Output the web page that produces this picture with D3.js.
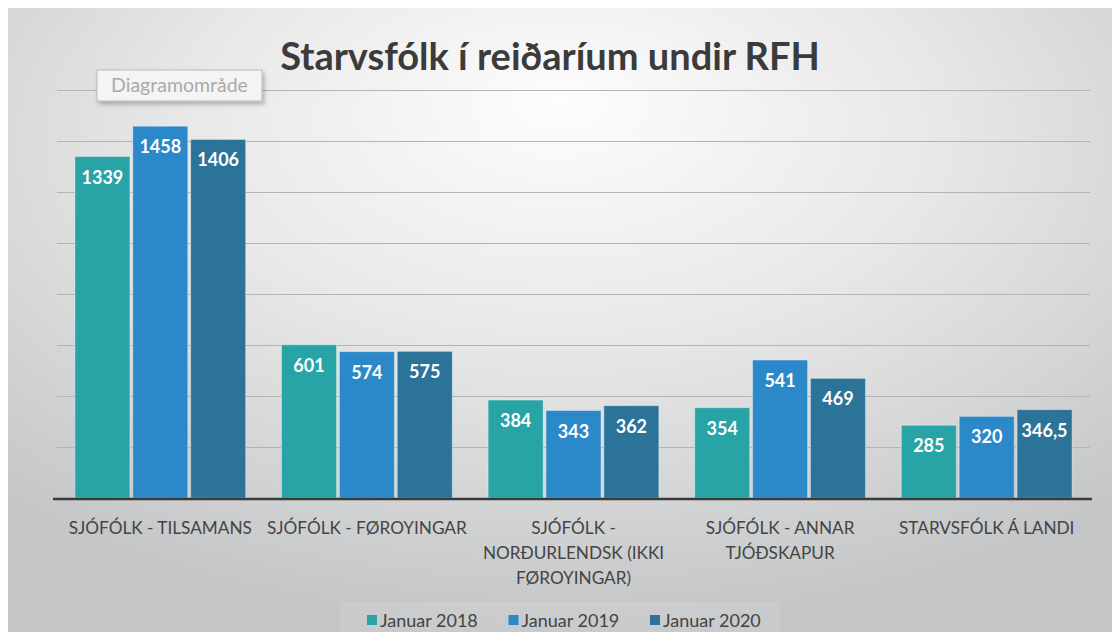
<!DOCTYPE html>
<html>
<head>
<meta charset="utf-8">
<script src="https://cdn.jsdelivr.net/npm/d3@7"></script>
<style>
  html, body { margin: 0; padding: 0; background: #fff; }
  svg { display: block; font-family: Lato, "Open Sans", sans-serif; }
</style>
</head>
<body>
<div id="chart"></div>
<script>
const categories = [
    "SJÓFÓLK - TILSAMANS",
    "SJÓFÓLK - FØROYINGAR",
    "SJÓFÓLK - NORÐURLENDSK (IKKI FØROYINGAR)",
    "SJÓFÓLK - ANNAR TJÓÐSKAPUR",
    "STARVSFÓLK Á LANDI"
]
const seriesNames = ["Januar 2018", "Januar 2019", "Januar 2020"]
const jan2018 = [1339, 601, 384, 354, 285]
const jan2019 = [1458, 574, 343, 541, 320]
const jan2020 = [1406, 575, 362, 469, 346.5]
const seriesColors = ["#28a3a6", "#2b89c9", "#2c7399"]

const width = 1116, height = 632
const margin = { top: 90, right: 26, bottom: 134, left: 57 }

const svg = d3.select("#chart").append("svg")
    .attr("width", width)
    .attr("height", height)

// background: grey chart area with a light centre
const defs = svg.append("defs")
const grad = defs.append("radialGradient")
    .attr("id", "bg")
    .attr("cx", "50%").attr("cy", "25%").attr("r", "75%")
    .attr("fx", "50%").attr("fy", "15%")
grad.append("stop").attr("offset", "0%").attr("stop-color", "#fdfdfd")
grad.append("stop").attr("offset", "45%").attr("stop-color", "#e8e8e8")
grad.append("stop").attr("offset", "100%").attr("stop-color", "#c3c5c6")

const shadow = defs.append("filter").attr("id", "shadow")
    .attr("x", "-10%").attr("y", "-20%").attr("width", "130%").attr("height", "170%")
shadow.append("feDropShadow")
    .attr("dx", 2).attr("dy", 3).attr("stdDeviation", 2)
    .attr("flood-color", "#000").attr("flood-opacity", 0.25)

svg.append("rect")
    .attr("x", 8).attr("y", 8)
    .attr("width", width - 12).attr("height", height - 8)
    .attr("fill", "url(#bg)")

const data = categories.map((c, i) => ({
    category: c,
    values: [jan2018[i], jan2019[i], jan2020[i]]
}))

const x0 = d3.scaleBand()
    .domain(categories)
    .range([margin.left, width - margin.right])
    .padding(0)

const x1 = d3.scaleBand()
    .domain(seriesNames)
    .range([0, x0.bandwidth()])
    .paddingInner(0.05)
    .paddingOuter(0.31)

const y = d3.scaleLinear()
    .domain([0, 1600])
    .range([height - margin.bottom, margin.top])

const color = d3.scaleOrdinal().domain(seriesNames).range(seriesColors)

const locale = d3.formatLocale({ decimal: ",", thousands: "", grouping: [3], currency: ["", ""] })
const fmt = v => Number.isInteger(v) ? String(v) : locale.format(".1f")(v)

// gridlines
svg.append("g")
    .attr("class", "grid")
    .selectAll("line")
    .data(y.ticks(8).filter(d => d > 0))
    .enter().append("line")
    .attr("x1", margin.left)
    .attr("x2", width - margin.right)
    .attr("y1", d => Math.round(y(d)) + 0.5)
    .attr("y2", d => Math.round(y(d)) + 0.5)
    .attr("stroke", "#b4b4b4")
    .attr("stroke-width", 1.2)

// bars
const groups = svg.append("g")
    .selectAll("g")
    .data(data)
    .enter().append("g")
    .attr("transform", d => `translate(${x0(d.category)},0)`)

const bars = groups.selectAll("g.bar")
    .data(d => d.values.map((v, i) => ({ key: seriesNames[i], value: v })))
    .enter().append("g")
    .attr("class", "bar")

bars.append("rect")
    .attr("x", d => x1(d.key))
    .attr("y", d => y(d.value))
    .attr("width", x1.bandwidth())
    .attr("height", d => y(0) - y(d.value))
    .attr("fill", d => color(d.key))
    .attr("stroke", "rgba(255,255,255,0.35)")
    .attr("stroke-width", 1)

bars.append("text")
    .attr("x", d => x1(d.key) + x1.bandwidth() / 2)
    .attr("y", d => y(d.value) + 27)
    .attr("text-anchor", "middle")
    .attr("fill", "#fff")
    .attr("font-size", 18)
    .attr("font-weight", "bold")
    .text(d => fmt(d.value))

// baseline
svg.append("line")
    .attr("x1", margin.left - 4)
    .attr("x2", width - margin.right + 2)
    .attr("y1", y(0) + 1)
    .attr("y2", y(0) + 1)
    .attr("stroke", "#3a3a3a")
    .attr("stroke-width", 2.5)

// category labels, wrapped to the band width
const xAxis = d3.axisBottom(x0).tickSize(0).tickPadding(0)
const axisG = svg.append("g")
    .attr("transform", `translate(0,${y(0)})`)
    .call(xAxis)
axisG.select(".domain").remove()
axisG.selectAll("text")
    .attr("font-family", "Lato, sans-serif")
    .attr("font-size", 17.2)
    .attr("fill", "#444")
    .attr("y", 36)
    .attr("dy", 0)
    .call(wrap, x0.bandwidth() - 2)

function wrap(texts, maxWidth) {
    texts.each(function () {
        const text = d3.select(this)
        const words = text.text().split(/\s+/)
        const yPos = text.attr("y")
        text.text(null)
        let line = []
        let lineNo = 0
        let tspan = text.append("tspan").attr("x", 0).attr("y", yPos)
        words.forEach(w => {
            line.push(w)
            tspan.text(line.join(" "))
            if (tspan.node().getComputedTextLength() > maxWidth && line.length > 1) {
                line.pop()
                tspan.text(line.join(" "))
                line = [w]
                lineNo++
                tspan = text.append("tspan").attr("x", 0).attr("y", +yPos + lineNo * 25).text(w)
            }
        })
    })
}

// title
svg.append("text")
    .attr("x", 550)
    .attr("y", 70)
    .attr("text-anchor", "middle")
    .attr("font-size", 38)
    .attr("font-weight", "bold")
    .attr("fill", "#3b3b3b")
    .text("Starvsfólk í reiðaríum undir RFH")

// "Diagramområde" tooltip box
const tip = svg.append("g").attr("transform", "translate(97,70)")
tip.append("rect")
    .attr("width", 165).attr("height", 31)
    .attr("fill", "#f4f4f4")
    .attr("stroke", "#b9b9b9")
    .attr("filter", "url(#shadow)")
tip.append("text")
    .attr("x", 82.5).attr("y", 22)
    .attr("text-anchor", "middle")
    .attr("font-size", 19.5)
    .attr("fill", "#aaa")
    .text("Diagramområde")

// legend
const legend = svg.append("g")
legend.append("rect")
    .attr("x", 340).attr("y", 602)
    .attr("width", 440).attr("height", 30)
    .attr("fill", "#fff").attr("opacity", 0.1)

const legendX = d3.scalePoint().domain(seriesNames).range([367, 650])
const item = legend.selectAll("g.item")
    .data(seriesNames)
    .enter().append("g")
    .attr("class", "item")
    .attr("transform", d => `translate(${legendX(d)},620)`)
item.append("rect")
    .attr("x", 0).attr("y", -5)
    .attr("width", 10).attr("height", 10)
    .attr("fill", d => color(d))
item.append("text")
    .attr("x", 13).attr("y", 6.5)
    .attr("font-size", 18)
    .attr("fill", "#444")
    .text(d => d)
</script>
</body>
</html>
